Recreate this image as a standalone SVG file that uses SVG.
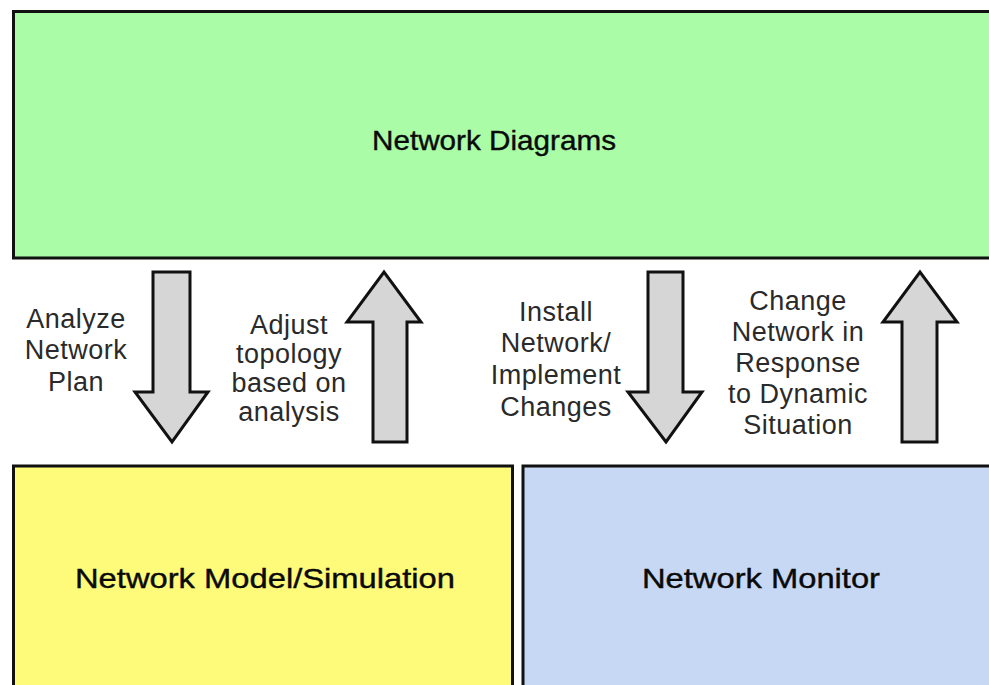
<svg xmlns="http://www.w3.org/2000/svg" width="989" height="685" viewBox="0 0 989 685">
<style>
.box{stroke:#111;stroke-width:3}
.main{font-family:"Liberation Sans",Arial,sans-serif;font-size:28px;fill:#0a0a0a;stroke:#0a0a0a;stroke-width:0.4;text-anchor:middle}
.lbl{font-family:"Liberation Sans",Arial,sans-serif;font-size:27px;fill:#2a2a2a;text-anchor:middle;letter-spacing:0.5px}
.arr{fill:#d6d6d6;stroke:#111;stroke-width:3;stroke-linejoin:miter}
</style>
<rect width="989" height="685" fill="#ffffff"/>
<g id="network-diagrams">
<rect class="box" x="13.5" y="11.5" width="990" height="246.5" fill="#aafca6"/>
<text class="main" x="494" y="150" textLength="244" lengthAdjust="spacingAndGlyphs">Network Diagrams</text>
</g>
<g id="network-model">
<rect class="box" x="13.5" y="466" width="499" height="230" fill="#fefb7a"/>
<text class="main" x="265" y="588" textLength="380" lengthAdjust="spacingAndGlyphs">Network Model/Simulation</text>
</g>
<g id="network-monitor">
<rect class="box" x="523" y="466" width="480" height="230" fill="#c6d8f4"/>
<text class="main" x="761" y="588" textLength="238" lengthAdjust="spacingAndGlyphs">Network Monitor</text>
</g>
<g id="connectors">
<polygon class="arr" points="153,272 190,272 190,392 208,392 172,442 135,392 153,392"/>
<polygon class="arr" points="373,442 407,442 407,322 421,322 384,272 347,322 373,322"/>
<polygon class="arr" points="648,272 683,272 683,392 702,392 666,442 628,392 648,392"/>
<polygon class="arr" points="902,442 937,442 937,322 957,322 920,272 883,322 902,322"/>
<text class="lbl" x="76"><tspan x="76" y="328">Analyze</tspan><tspan x="76" y="359">Network</tspan><tspan x="76" y="391">Plan</tspan></text>
<text class="lbl" x="289"><tspan x="289" y="334">Adjust</tspan><tspan x="289" y="363">topology</tspan><tspan x="289" y="392">based on</tspan><tspan x="289" y="421">analysis</tspan></text>
<text class="lbl" x="556"><tspan x="556" y="321">Install</tspan><tspan x="556" y="352">Network/</tspan><tspan x="556" y="384">Implement</tspan><tspan x="556" y="416">Changes</tspan></text>
<text class="lbl" x="798"><tspan x="798" y="310">Change</tspan><tspan x="798" y="341">Network in</tspan><tspan x="798" y="372">Response</tspan><tspan x="798" y="403">to Dynamic</tspan><tspan x="798" y="434">Situation</tspan></text>
</g>
</svg>
